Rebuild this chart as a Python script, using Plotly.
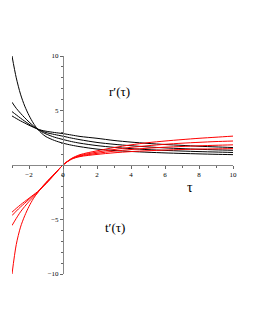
import plotly.graph_objects as go

TAU = [-3, -2.75, -2.5, -2.25, -2, -1.75, -1.5, -1.25, -1, -0.5, 0, 0.5, 1, 2, 3, 4, 5, 6, 7, 8, 9, 10]

R_PRIME_1 = [10, 8.0, 6.5, 5.4, 4.55, 3.85, 3.3, 2.9, 2.6, 2.25, 2.0, 1.82, 1.68, 1.46, 1.33, 1.24, 1.17, 1.11, 1.06, 1.02, 0.98, 0.95]
R_PRIME_2 = [5.76, 5.2, 4.75, 4.33, 3.95, 3.6, 3.3, 3.05, 2.85, 2.55, 2.34, 2.15, 2.0, 1.78, 1.62, 1.5, 1.41, 1.34, 1.28, 1.23, 1.19, 1.15]
R_PRIME_3 = [4.9, 4.6, 4.3, 4.02, 3.75, 3.5, 3.3, 3.13, 2.98, 2.8, 2.64, 2.47, 2.32, 2.07, 1.9, 1.77, 1.66, 1.57, 1.5, 1.44, 1.39, 1.35]
R_PRIME_4 = [4.5, 4.27, 4.05, 3.85, 3.65, 3.47, 3.3, 3.18, 3.1, 2.98, 2.88, 2.75, 2.62, 2.45, 2.25, 2.1, 1.98, 1.88, 1.8, 1.72, 1.66, 1.6]

T_PRIME_1 = [-10, -7.3, -5.7, -4.65, -3.8, -3.1, -2.55, -2.05, -1.6, -0.8, 0, 0.6, 0.95, 1.3, 1.6, 1.85, 2.05, 2.2, 2.33, 2.45, 2.55, 2.65]
T_PRIME_2 = [-5.55, -4.9, -4.3, -3.8, -3.35, -2.95, -2.55, -2.1, -1.65, -0.82, 0, 0.57, 0.88, 1.18, 1.42, 1.62, 1.77, 1.9, 2.0, 2.08, 2.15, 2.2]
T_PRIME_3 = [-4.64, -4.23, -3.85, -3.5, -3.15, -2.8, -2.5, -2.1, -1.7, -0.85, 0, 0.55, 0.82, 1.07, 1.27, 1.42, 1.54, 1.63, 1.7, 1.76, 1.81, 1.85]
T_PRIME_4 = [-4.33, -3.98, -3.65, -3.35, -3.05, -2.75, -2.45, -2.08, -1.72, -0.87, 0, 0.53, 0.77, 0.97, 1.12, 1.23, 1.31, 1.37, 1.42, 1.46, 1.48, 1.5]

X_TICKS = [-2, 0, 2, 4, 6, 8, 10]
Y_TICKS = [-10, -5, 5, 10]

LABEL_R = "r′(τ)"
LABEL_T = "t′(τ)"
LABEL_X = "τ"

fig = go.Figure()
for ys in [R_PRIME_1, R_PRIME_2, R_PRIME_3, R_PRIME_4]:
    fig.add_trace(go.Scatter(x=TAU, y=ys, mode="lines",
                             line=dict(color="black", width=1, shape="spline", smoothing=0.8),
                             showlegend=False, hoverinfo="skip"))
for ys in [T_PRIME_1, T_PRIME_2, T_PRIME_3, T_PRIME_4]:
    fig.add_trace(go.Scatter(x=TAU, y=ys, mode="lines",
                             line=dict(color="red", width=1, shape="spline", smoothing=0.8),
                             showlegend=False, hoverinfo="skip"))

tickfont = dict(family="Liberation Serif", size=7, color="black")
fig.update_xaxes(range=[-3, 10], anchor="free", position=0.5,
                 showgrid=False, zeroline=False, showline=True, linecolor="#888888", linewidth=1,
                 tickvals=X_TICKS, ticks="outside", ticklen=3, tickcolor="#666666",
                 minor=dict(dtick=1, ticks="outside", ticklen=2, tickcolor="#666666"),
                 tickfont=tickfont)
fig.update_yaxes(range=[-10, 10], anchor="free", position=3 / 13,
                 showgrid=False, zeroline=False, showline=True, linecolor="#888888", linewidth=1,
                 tickvals=Y_TICKS, ticks="outside", ticklen=3, tickcolor="#666666",
                 minor=dict(dtick=1, ticks="outside", ticklen=2, tickcolor="#666666"),
                 tickfont=tickfont)

annfont = dict(family="Liberation Serif", size=13, color="black")
fig.add_annotation(x=3.3, y=6.7, text=LABEL_R, showarrow=False, font=annfont)
fig.add_annotation(x=3.05, y=-5.7, text=LABEL_T, showarrow=False, font=annfont)
fig.add_annotation(x=7.45, y=-2.1, text=LABEL_X, showarrow=False, font=dict(family="Liberation Serif", size=14, color="black"))

fig.update_layout(width=255, height=330, margin=dict(l=4, r=30, t=48, b=64),
                  paper_bgcolor="white", plot_bgcolor="white")

fig.write_html("out.html", config={"displayModeBar": False})
